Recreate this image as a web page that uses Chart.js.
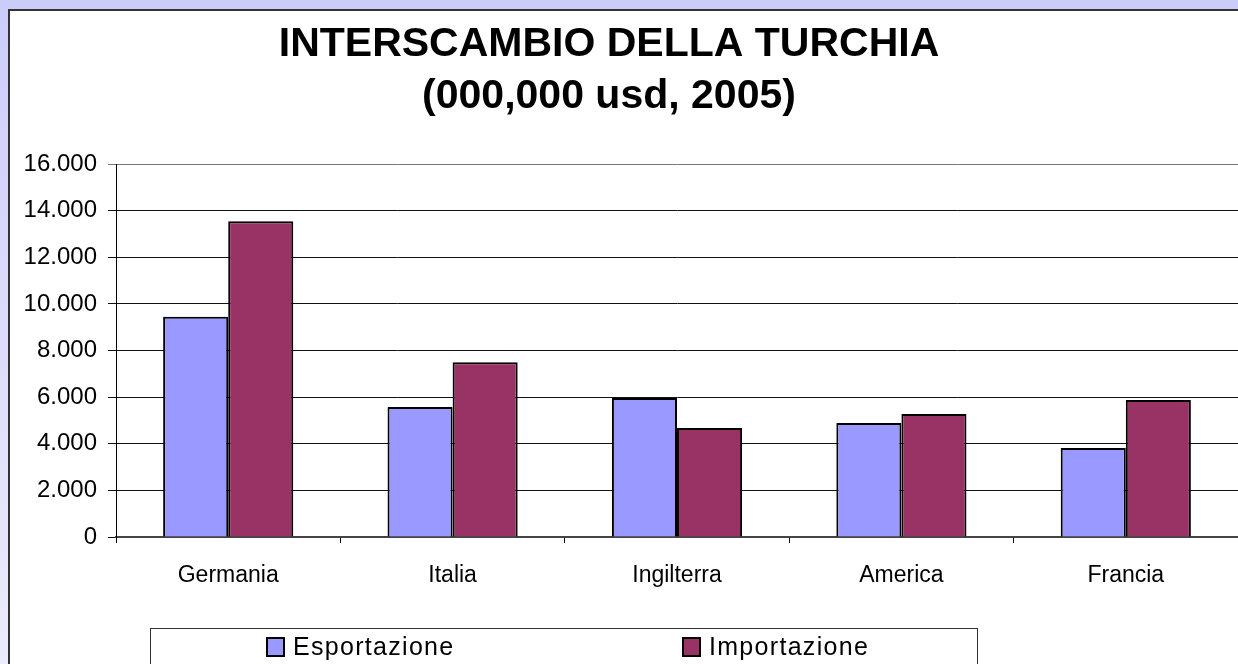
<!DOCTYPE html>
<html>
<head>
<meta charset="utf-8">
<script src="https://cdn.jsdelivr.net/npm/chart.js@4/dist/chart.umd.min.js"></script>
<style>
    html, body {
        margin: 0;
        padding: 0;
        width: 1238px;
        height: 664px;
        overflow: hidden;
        background: linear-gradient(#ccccfa, #ececfc);
        font-family: "Liberation Sans", Arial, sans-serif;
    }
    #panel {
        position: absolute;
        left: 8px;
        top: 9px;
        width: 1300px;
        height: 720px;
        background: #fff;
        border: 2px solid #333;
        overflow: hidden;
    }
    #chart {
        position: absolute;
        left: -30px;
        top: 0;
    }
</style>
</head>
<body>
<div id="panel">
    <canvas id="chart" width="1258" height="653"></canvas>
</div>
<script>
    const categories = ['Germania', 'Italia', 'Ingilterra', 'America', 'Francia'];
    const esportazione = [9450, 5580, 5960, 4890, 3820];
    const importazione = [13550, 7500, 4680, 5280, 5880];
    const seriesNames = ['Esportazione', 'Importazione'];
    const titleLines = ['INTERSCAMBIO DELLA TURCHIA', '(000,000 usd, 2005)'];

    const FONT = '"Liberation Sans", Arial, sans-serif';

    function formatThousands(v) {
        return String(v).replace(/\B(?=(\d{3})+(?!\d))/g, '.');
    }

    // boxed legend like the old excel one, drawn from the datasets
    const boxedLegend = {
        id: 'boxedLegend',
        afterDraw(chart) {
            const ctx = chart.ctx;
            ctx.save();
            ctx.strokeStyle = '#333';
            ctx.lineWidth = 1;
            ctx.strokeRect(170.5, 617.5, 827, 100);

            const slots = [287, 703];
            ctx.font = '25px ' + FONT;
            ctx.letterSpacing = '1.3px';
            ctx.textBaseline = 'alphabetic';
            chart.data.datasets.forEach((ds, i) => {
                const x = slots[i];
                ctx.fillStyle = ds.backgroundColor;
                ctx.fillRect(x, 627, 17, 18);
                ctx.strokeStyle = '#000';
                ctx.lineWidth = 2;
                ctx.strokeRect(x, 627, 17, 18);
                ctx.fillStyle = '#000';
                ctx.fillText(ds.label, x + 26, 644);
            });
            ctx.restore();
        }
    };

    const ctx = document.getElementById('chart').getContext('2d');
    new Chart(ctx, {
        type: 'bar',
        data: {
            labels: categories,
            datasets: [
                {
                    label: seriesNames[0],
                    data: esportazione,
                    backgroundColor: '#9999ff',
                    borderColor: '#000',
                    borderWidth: 2
                },
                {
                    label: seriesNames[1],
                    data: importazione,
                    backgroundColor: '#993366',
                    borderColor: '#000',
                    borderWidth: 2
                }
            ]
        },
        options: {
            responsive: false,
            animation: false,
            devicePixelRatio: 1,
            layout: { padding: 0 },
            datasets: {
                bar: {
                    categoryPercentage: 0.58,
                    barPercentage: 1
                }
            },
            plugins: {
                legend: { display: false },
                tooltip: { enabled: false },
                title: {
                    display: true,
                    text: titleLines,
                    color: '#000',
                    font: { family: FONT, size: 41, weight: 'bold', lineHeight: 1.27 },
                    padding: { top: 8, bottom: 41 }
                }
            },
            scales: {
                x: {
                    afterFit: scale => { scale.height = 127; },
                    grid: {
                        display: true,
                        drawOnChartArea: false,
                        drawTicks: true,
                        tickLength: 6,
                        color: '#000',
                        offset: true
                    },
                    border: { display: true, color: '#444', width: 2 },
                    ticks: {
                        color: '#000',
                        padding: 19,
                        font: { family: FONT, size: 23 }
                    }
                },
                y: {
                    min: 0,
                    max: 16000,
                    afterFit: scale => { scale.width = 136; },
                    ticks: {
                        stepSize: 2000,
                        color: '#000',
                        padding: 11,
                        font: { family: FONT, size: 24 },
                        callback: value => formatThousands(value)
                    },
                    grid: {
                        color: ctx => ctx.tick && ctx.tick.value === 16000 ? '#777' : '#111',
                        lineWidth: 1,
                        tickLength: 8
                    },
                    border: { display: true, color: '#000', width: 1 }
                }
            }
        },
        plugins: [boxedLegend]
    });
</script>
</body>
</html>
